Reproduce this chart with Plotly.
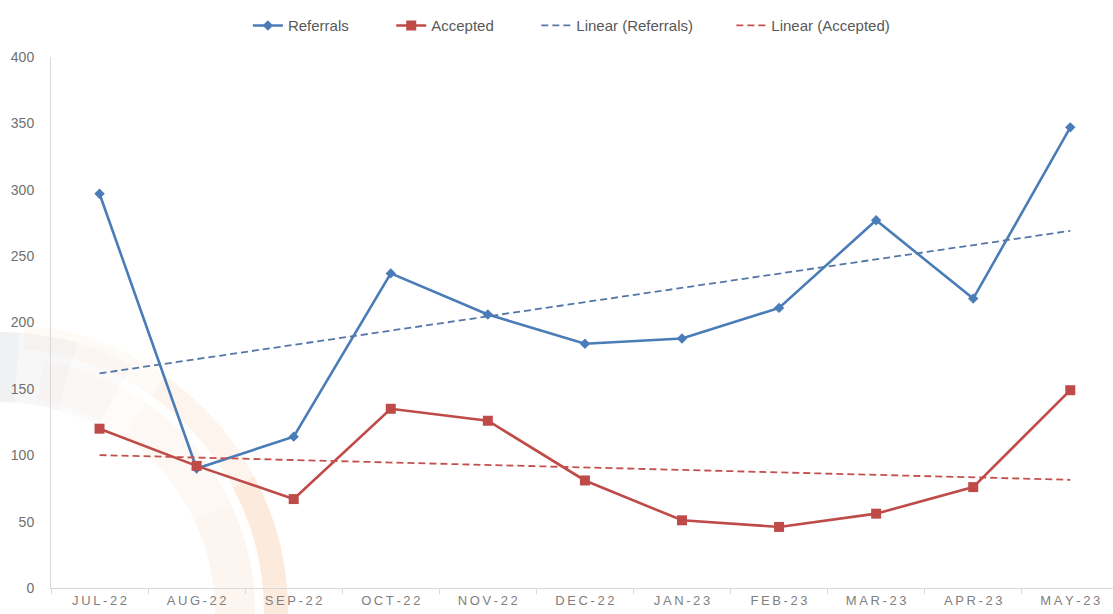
import math
import numpy as np
import plotly.graph_objects as go

months = ["JUL-22", "AUG-22", "SEP-22", "OCT-22", "NOV-22", "DEC-22",
          "JAN-23", "FEB-23", "MAR-23", "APR-23", "MAY-23"]
referrals = [297, 90, 114, 237, 206, 184, 188, 211, 277, 218, 347]
accepted = [120, 92, 67, 135, 126, 81, 51, 46, 56, 76, 149]
y_ticks = [0, 50, 100, 150, 200, 250, 300, 350, 400]

BLUE = "#4A7CB8"
RED = "#BE4B48"
BLUE_TREND = "#5577A8"
RED_TREND = "#C4504D"

xi = np.arange(len(months))
ref_fit = np.polyval(np.polyfit(xi, referrals, 1), xi)
acc_fit = np.polyval(np.polyfit(xi, accepted, 1), xi)

W, H = 1113, 614
ML, MR, MT, MB = 51, 0, 57, 26
pw, ph = W - ML - MR, H - MT - MB


def px(x):
    return (x - ML) / pw


def py(y):
    return (H - MB - y) / ph


def arc_path(cx, cy, r, t0, t1):
    """Cubic bezier approximation of a circular arc (pixel space) -> paper path."""
    n = max(1, int(math.ceil(abs(t1 - t0) / 30)))
    a0 = math.radians(t0)
    step = math.radians(t1 - t0) / n
    k = 4 / 3 * math.tan(step / 4)

    def P(a):
        return cx + r * math.cos(a), cy - r * math.sin(a)

    def D(a):
        return -r * math.sin(a), -r * math.cos(a)

    x, y = P(a0)
    s = f"M{px(x):.5f},{py(y):.5f}"
    for i in range(n):
        a = a0 + i * step
        b = a + step
        x0, y0 = P(a)
        x3, y3 = P(b)
        dx0, dy0 = D(a)
        dx3, dy3 = D(b)
        x1, y1 = x0 + k * dx0, y0 + k * dy0
        x2, y2 = x3 - k * dx3, y3 - k * dy3
        s += (f" C{px(x1):.5f},{py(y1):.5f} {px(x2):.5f},{py(y2):.5f} "
              f"{px(x3):.5f},{py(y3):.5f}")
    return s


fig = go.Figure()

# decorative background arcs (grey at top-left fading into orange toward the bottom)
cx, cy = 0, 612
bands = [
    # radius, width, from angle, to angle, colour
    (245, 70, 100, 86, "rgba(165,172,185,0.17)"),
    (245, 70, 86, 74, "rgba(175,178,188,0.10)"),
    (245, 70, 74, 62, "rgba(190,185,185,0.05)"),
    (235, 40, 80, 55, "rgba(240,190,150,0.06)"),
    (235, 40, 55, 25, "rgba(240,185,140,0.10)"),
    (235, 40, 25, -2, "rgba(240,180,130,0.12)"),
    (276, 24, 85, 55, "rgba(238,180,130,0.07)"),
    (276, 24, 55, 28, "rgba(240,170,115,0.13)"),
    (276, 24, 28, -2, "rgba(240,160,100,0.22)"),
]
for r, w, a0, a1, c in bands:
    fig.add_shape(type="path", xref="paper", yref="paper",
                  path=arc_path(cx, cy, r, a0, a1),
                  line=dict(color=c, width=w), layer="below")

nb = "\u00a0"
fig.add_trace(go.Scatter(x=months, y=referrals, name="Referrals" + nb * 9, mode="lines+markers",
                         line=dict(color=BLUE, width=2.6),
                         marker=dict(symbol="diamond", size=8, color=BLUE)))
fig.add_trace(go.Scatter(x=months, y=accepted, name="Accepted" + nb * 9, mode="lines+markers",
                         line=dict(color=RED, width=2.6),
                         marker=dict(symbol="square", size=10, color=RED)))
fig.add_trace(go.Scatter(x=months, y=ref_fit, name="Linear (Referrals)" + nb * 8, mode="lines",
                         line=dict(color=BLUE_TREND, width=1.8, dash="7px,4px")))
fig.add_trace(go.Scatter(x=months, y=acc_fit, name="Linear (Accepted)", mode="lines",
                         line=dict(color=RED_TREND, width=1.8, dash="7px,4px")))

tick_text = ["\u2009".join(list(m)) for m in months]

fig.update_layout(
    width=W, height=H,
    margin=dict(l=ML, r=MR, t=MT, b=MB, pad=0),
    paper_bgcolor="white", plot_bgcolor="rgba(0,0,0,0)",
    font=dict(family="Liberation Sans, Arial, sans-serif", size=12, color="#6d6d6d"),
    showlegend=True,
    legend=dict(orientation="h", x=0.49, xanchor="center", y=0.985, yanchor="top",
                yref="container", font=dict(size=15, color="#595959"),
                bgcolor="rgba(0,0,0,0)", traceorder="normal"),
    xaxis=dict(range=[-0.5, 10.44], showgrid=False, zeroline=False,
               showline=True, linecolor="#d9d9d9", linewidth=1,
               ticks="outside", tickson="boundaries", ticklen=5, tickcolor="#d9d9d9",
               tickvals=months, ticktext=tick_text,
               tickfont=dict(size=13, color="#808080")),
    yaxis=dict(range=[0, 400], tickvals=y_ticks, showgrid=False, zeroline=False,
               showline=True, linecolor="#d9d9d9", linewidth=1,
               ticks="", ticklabelstandoff=13,
               tickfont=dict(size=14, color="#707070")),
)

fig.write_html("out.html")
